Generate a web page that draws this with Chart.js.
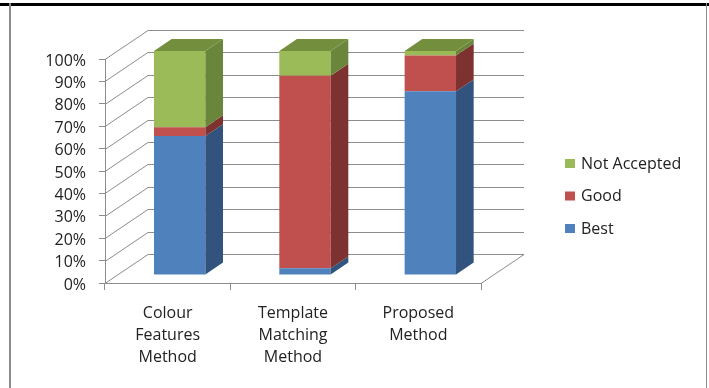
<!DOCTYPE html>
<html><head><meta charset="utf-8">
<script src="https://cdn.jsdelivr.net/npm/chart.js@4.4.1/dist/chart.umd.min.js"></script>
<style>
html,body{margin:0;padding:0;background:#fff;overflow:hidden}
#wrap{position:relative;width:709px;height:388px}
canvas{position:absolute;left:0;top:0}
.b{position:absolute}
</style></head>
<body><div id="wrap"><canvas id="c" width="709" height="388"></canvas>
<div class="b" style="left:0;top:3px;width:709px;height:3px;background:#000"></div>
<div class="b" style="left:9px;top:3px;width:2px;height:385px;background:#8c8c8c"></div>
<div class="b" style="left:706px;top:3px;width:1px;height:385px;background:#8c8c8c"></div>
</div>
<script>
const categories = [['Colour','Features','Method'],['Template','Matching','Method'],['Proposed','Method']];
const seriesNames = ['Best','Good','Not Accepted'];
const best = [62, 3, 82];
const good = [4, 86, 16];
const notAccepted = [34, 11, 2];
const yTicks = [0,10,20,30,40,50,60,70,80,90,100];

const frontColors = ['#4F81BD','#C0504D','#9BBB59'];
const sideColors = ['#32537D','#7D3230','#6A863A'];
const topColors = ['#3C6494','#8E3A37','#738F3E'];

const DEPTH = {x:43, y:-29};
const BAR_FRONT = 0.28, BAR_DEPTH = 0.41;
const FONT = '"Open Sans", sans-serif';
const TEXT = '#222222';

const threeD = {
  id:'threeD',
  beforeDatasetsDraw(chart){
    const {ctx, chartArea:a, scales:{y}} = chart;
    ctx.save();
    ctx.strokeStyle = '#8c8c8c'; ctx.lineWidth = 1;
    yTicks.forEach(v => {
      const py = Math.round(y.getPixelForValue(v)) + 0.5;
      ctx.beginPath();
      ctx.moveTo(a.left, py);
      ctx.lineTo(a.left + DEPTH.x, py + DEPTH.y);
      ctx.lineTo(a.right + DEPTH.x, py + DEPTH.y);
      if (v === 0) ctx.lineTo(a.right, py);
      ctx.stroke();
    });
    ctx.restore();
    ctx.save();
    ctx.translate(Math.round(BAR_FRONT*DEPTH.x), Math.round(BAR_FRONT*DEPTH.y));
  },
  afterDatasetsDraw(chart){
    const ctx = chart.ctx;
    const dx = BAR_DEPTH*DEPTH.x, dy = BAR_DEPTH*DEPTH.y;
    const n = chart.data.datasets.length;
    chart.data.datasets.forEach((ds, di) => {
      const meta = chart.getDatasetMeta(di);
      meta.data.forEach(bar => {
        const {x, y, base, width} = bar.getProps(['x','y','base','width'], true);
        const r = x + width/2, l = x - width/2;
        ctx.fillStyle = sideColors[di];
        ctx.beginPath();
        ctx.moveTo(r, y); ctx.lineTo(r+dx, y+dy); ctx.lineTo(r+dx, base+dy); ctx.lineTo(r, base);
        ctx.closePath(); ctx.fill();
        if (di === n-1) {
          ctx.fillStyle = topColors[di];
          ctx.beginPath();
          ctx.moveTo(l, y); ctx.lineTo(l+dx, y+dy); ctx.lineTo(r+dx, y+dy); ctx.lineTo(r, y);
          ctx.closePath(); ctx.fill();
        }
      });
    });
    ctx.restore();
  },
  afterDraw(chart){
    const ctx = chart.ctx;
    ctx.save();
    ctx.font = '16px ' + FONT;
    ctx.textBaseline = 'middle';
    const items = chart.data.datasets.map((d,i)=>({label:d.label, color:frontColors[i]})).reverse();
    items.forEach((it, k) => {
      const cy = 164 + k*32.5;
      ctx.fillStyle = it.color;
      ctx.fillRect(565, cy-5, 10, 9);
      ctx.fillStyle = TEXT;
      ctx.fillText(it.label, 581, cy);
    });
    ctx.restore();
  }
};

new Chart(document.getElementById('c'), {
  type:'bar',
  data:{
    labels: categories,
    datasets:[
      {label:seriesNames[0], data:best, backgroundColor:frontColors[0]},
      {label:seriesNames[1], data:good, backgroundColor:frontColors[1]},
      {label:seriesNames[2], data:notAccepted, backgroundColor:frontColors[2]}
    ]
  },
  options:{
    responsive:false, animation:false, devicePixelRatio:1,
    layout:{padding:{top:59, right:228, left:0, bottom:0}},
    datasets:{bar:{barPercentage:0.41, categoryPercentage:1, borderWidth:0, clip:false}},
    plugins:{legend:{display:false}, tooltip:{enabled:false}},
    scales:{
      x:{stacked:true,
        grid:{drawOnChartArea:false, drawTicks:true, tickLength:7, color:'#8c8c8c', offset:true},
        border:{display:true, color:'#8c8c8c'},
        ticks:{font:{family:FONT, size:16, lineHeight:1.375}, color:TEXT, padding:12, maxRotation:0, autoSkip:false},
        afterFit(s){ s.height = 105; }
      },
      y:{stacked:true, min:0, max:100,
        grid:{drawOnChartArea:false, drawTicks:true, tickLength:6, color:'#8c8c8c'},
        border:{display:true, color:'#8c8c8c'},
        ticks:{stepSize:10, font:{family:FONT, size:16}, color:TEXT, padding:13, labelOffset:2, callback:v=>v+'%'},
        afterFit(s){ s.width = 105; }
      }
    }
  },
  plugins:[threeD]
});
</script>
</body></html>
